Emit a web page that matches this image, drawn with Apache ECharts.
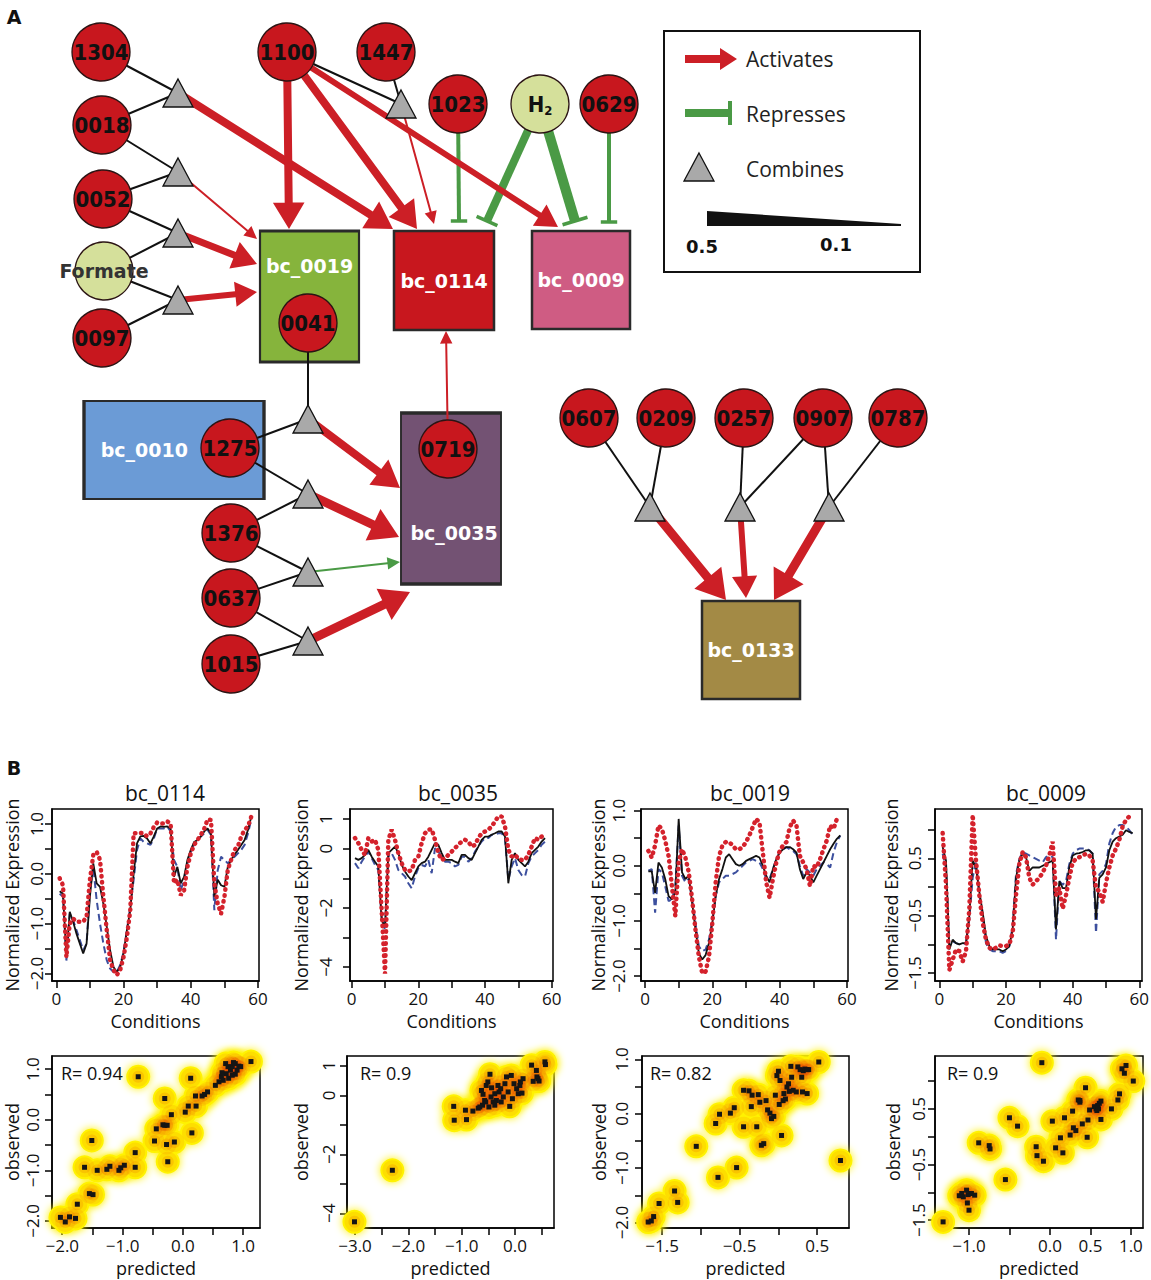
<!DOCTYPE html>
<html>
<head>
<meta charset="utf-8">
<script src="https://cdn.jsdelivr.net/npm/echarts@6/dist/echarts.min.js"></script>
<style>
  html, body { margin: 0; padding: 0; background: #fff; }
  #chart { width: 1151px; height: 1280px; }
</style>
</head>
<body>
<div id="chart"></div>
<script>
// ---------- panel A: regulatory network ----------
// regulator circles: name, x, y (diagram units)
const circles = [
  ['1304', 101, 52], ['1100', 287, 52], ['1447', 386, 52],
  ['0018', 102, 125], ['0052', 103, 199], ['Formate', 104, 271], ['0097', 102, 338],
  ['1023', 458, 104], ['H2', 540, 104], ['0629', 609, 104],
  ['0041', 308, 323], ['1275', 230, 448], ['1376', 231, 533], ['0637', 231, 598],
  ['1015', 231, 664], ['0719', 448, 449],
  ['0607', 589, 418], ['0209', 666, 418], ['0257', 744, 418], ['0907', 823, 418], ['0787', 898, 418]
];
const metabolites = ['Formate', 'H2'];

// combiner triangles: name, x, y
const combiners = [
  ['T1', 178, 93], ['T2', 178, 172], ['T3', 178, 233], ['T4', 178, 300], ['T5', 401, 104],
  ['T6', 308, 419], ['T7', 308, 494], ['T8', 308, 572], ['T9', 308, 641],
  ['T10', 650, 507], ['T11', 740, 507], ['T12', 829, 507]
];

// bicluster boxes: name, centre x, centre y, width, height, colour
const biclusters = [
  ['bc_0019', 309.5, 296.5, 99, 131, '#86b43c'],
  ['bc_0114', 444, 280.5, 100, 99, '#c8171e'],
  ['bc_0009', 581, 280, 98, 98, '#cf5c83'],
  ['bc_0010', 174, 450, 180, 98, '#6b9bd6'],
  ['bc_0035', 451, 498.5, 100, 171, '#735273'],
  ['bc_0133', 751, 650, 98, 98, '#a38a45']
];

// combiner inputs
const connectors = [
  ['1304', 'T1'], ['0018', 'T1'], ['0018', 'T2'], ['0052', 'T2'], ['0052', 'T3'], ['Formate', 'T3'],
  ['Formate', 'T4'], ['0097', 'T4'], ['1100', 'T5'], ['1447', 'T5'], ['0041', 'T6'], ['1275', 'T6'],
  ['1275', 'T7'], ['1376', 'T7'], ['1376', 'T8'], ['0637', 'T8'], ['0637', 'T9'], ['1015', 'T9'],
  ['0607', 'T10'], ['0209', 'T10'], ['0257', 'T11'], ['0907', 'T11'], ['0907', 'T12'], ['0787', 'T12']
];
// activations: source, tip x, tip y, weight, colour
const activations = [
  ['T1', 393, 229, 8, 'red'], ['T2', 257, 239, 2, 'red'], ['T3', 257, 264, 7, 'red'],
  ['T4', 257, 292, 6, 'red'], ['1100', 289, 229, 8, 'red'], ['1100', 417, 229, 8, 'red'],
  ['1100', 558, 227, 6, 'red'], ['T5', 434, 224, 2, 'red'], ['0719', 446, 331, 2, 'red'],
  ['T6', 400, 488, 8, 'red'], ['T7', 399, 537, 9, 'red'], ['T8', 400, 562, 2, 'green'],
  ['T9', 410, 592, 9, 'red'], ['T10', 726, 600, 9, 'red'], ['T11', 746, 598, 6, 'red'],
  ['T12', 774, 600, 9, 'red']
];
// repressions: source, end x, end y, weight
const repressions = [
  ['1023', 459, 221, 4], ['H2', 487, 221, 8], ['H2', 575, 221, 10], ['0629', 609, 222, 4]
];

// ---------- panel B: expression profiles ----------
const conditions = [1,2,3,4,5,6,7,8,9,10,11,12,13,14,15,16,17,18,19,20,21,22,23,24,25,26,27,28,29,30,
  31,32,33,34,35,36,37,38,39,40,41,42,43,44,45,46,47,48,49,50,51,52,53,54,55,56,57,58];

const bc0114Red = [-0.09,-0.23,-1.67,-1.0,-0.9,-0.96,-0.96,-0.96,-0.86,-0.12,0.38,0.44,0.28,-0.46,-1.13,-1.73,-1.93,-2.03,-1.93,-1.67,
  -1.27,-0.73,0.81,0.82,0.82,0.81,0.75,0.81,0.94,1.03,1.01,1.01,1.05,1.01,-0.19,-0.12,-0.43,-0.33,0.14,0.41,
  0.58,0.68,0.78,0.91,1.09,1.08,-0.19,-0.6,-0.8,-0.46,0.08,0.28,0.48,0.55,0.75,0.88,0.95,1.15];
const bc0114Black = [-0.35,-0.4,-1.67,-0.76,-0.96,-1.2,-1.4,-1.6,-1.4,-0.46,0.21,-0.19,-0.26,-0.6,-1.06,-1.53,-1.87,-1.97,-1.87,-1.6,
  -1.13,-0.73,0.0,0.61,0.75,0.76,0.71,0.61,0.75,0.91,0.95,0.94,0.95,0.91,-0.06,0.14,-0.19,-0.06,0.28,0.48,
  0.64,0.68,0.75,0.85,0.91,0.81,-0.46,-0.12,-0.23,-0.26,0.14,0.28,0.38,0.48,0.58,0.68,0.88,1.15];
const bc0114Blue = [-0.4,-0.46,-1.74,-0.8,-0.93,-1.13,-1.33,-1.53,-1.4,-0.33,0.14,-0.53,-1.0,-1.4,-1.73,-1.9,-1.97,-1.97,-1.83,-1.57,
  -1.13,-0.66,-0.12,0.48,0.71,0.64,0.61,0.58,0.71,0.91,0.91,0.91,0.95,0.85,0.28,0.14,-0.33,-0.12,0.21,0.44,
  0.61,0.68,0.75,0.81,0.88,0.78,-0.73,0.07,0.34,0.28,0.21,0.28,0.34,0.41,0.48,0.58,0.81,1.1];

const bc0035Red = [0.36,0.19,-0.04,-0.21,0.36,0.24,0.3,-0.04,-2.08,-4.22,0.3,0.64,0.3,-0.15,-0.49,-0.72,-0.77,-0.72,-0.38,-0.27,
  0.19,0.52,0.64,0.66,0.3,-0.15,-0.38,-0.33,-0.21,-0.1,0.02,0.13,0.24,0.3,0.24,0.07,0.13,0.36,0.52,0.58,
  0.64,0.75,0.92,1.09,1.09,0.75,-0.04,-0.27,-0.21,-0.33,-0.38,-0.38,-0.21,0.07,0.36,0.3,0.41,0.47];
const bc0035Black = [-0.32,-0.38,-0.32,-0.21,-0.04,-0.27,-0.44,-0.6,-2.42,-2.64,-0.15,-0.04,0.07,-0.15,-0.55,-0.77,-0.94,-1.06,-0.83,-0.6,
  -0.49,-0.44,-0.27,-0.04,0.19,0.13,-0.15,-0.38,-0.38,-0.38,-0.44,-0.49,-0.21,-0.21,-0.32,-0.38,-0.15,0.07,0.3,0.41,
  0.41,0.47,0.52,0.58,0.58,0.41,-1.17,-0.38,-0.15,-0.38,-0.49,-0.6,-0.44,-0.15,-0.04,0.07,0.24,0.36];
const bc0035Blue = [-0.49,-0.66,-0.44,-0.27,-0.1,-0.32,-0.55,-0.72,-2.3,-2.76,-0.27,-0.15,-0.38,-0.72,-0.83,-0.94,-1.17,-1.34,-0.94,-0.66,
  -0.55,-0.6,-0.38,-0.83,0.02,-0.1,-0.27,-0.44,-0.44,-0.49,-0.6,-0.55,-0.27,-0.27,-0.44,-0.32,-0.1,0.07,0.24,0.36,
  0.36,0.47,0.47,0.52,0.52,0.36,-1.06,-0.6,-0.32,-0.72,-0.89,-0.94,-0.49,-0.27,-0.15,-0.04,0.13,0.24];

const bc0019Red = [0.27,0.15,0.37,0.73,0.67,0.46,0.18,-0.37,-0.91,0.06,0.3,0.15,-0.12,-0.61,-1.16,-1.65,-1.95,-1.92,-1.65,-1.04,
  -0.3,0.18,0.37,0.43,0.43,0.37,0.3,0.3,0.34,0.43,0.55,0.7,0.85,0.79,0.24,-0.3,-0.58,-0.24,0.06,0.27,
  0.37,0.43,0.7,0.82,0.73,0.18,0.06,-0.06,-0.37,0.0,-0.03,0.12,0.3,0.46,0.73,0.67,0.85,0.85];
const bc0019Black = [-0.1,-0.1,-0.49,0.06,-0.03,-0.24,-0.55,-0.61,-0.49,0.85,-0.12,-0.24,-0.18,-0.67,-1.16,-1.59,-1.7,-1.62,-1.4,-1.04,
  -0.55,-0.24,-0.06,0.15,0.21,0.12,0.03,0.0,0.03,0.09,0.12,0.15,0.18,0.15,0.0,-0.18,-0.3,-0.06,0.12,0.24,
  0.3,0.34,0.34,0.3,0.24,-0.06,-0.24,-0.12,-0.18,-0.3,-0.18,-0.06,0.06,0.18,0.3,0.4,0.49,0.55];
const bc0019Blue = [-0.09,-0.06,-0.85,-0.06,-0.12,-0.37,-0.64,-0.61,-0.37,0.73,-0.18,-0.3,-0.24,-0.61,-1.04,-1.46,-1.55,-1.52,-1.34,-0.98,
  -0.55,-0.3,-0.24,-0.18,-0.18,-0.15,-0.12,-0.06,0.0,0.06,0.09,0.12,0.09,0.06,-0.06,-0.24,-0.24,-0.06,0.12,0.24,
  0.3,0.34,0.3,0.27,0.21,0.0,-0.18,-0.06,-0.12,-0.18,-0.06,0.0,0.06,0.03,-0.03,0.24,0.43,0.55];

const bc0009Red = [0.94,0.04,-1.45,-1.27,-1.09,-1.12,-1.3,-1.12,-0.38,1.26,0.46,-0.14,-0.62,-0.92,-1.06,-1.09,-1.06,-1.02,-1.03,-1.03,
  -1.0,-0.8,-0.14,0.4,0.61,0.52,0.16,0.04,0.1,0.16,0.25,0.37,0.55,0.79,-0.14,-0.02,-0.38,-0.14,0.16,0.43,
  0.49,0.52,0.55,0.58,0.55,0.46,-0.02,-0.08,-0.26,0.07,0.34,0.55,0.67,0.82,1.06,1.17,1.23,1.2];
const bc0009Black = [0.7,0.46,-1.09,-0.92,-0.98,-1.0,-0.98,-0.98,-0.5,0.46,0.34,-0.08,-0.44,-0.86,-1.03,-1.09,-1.09,-1.09,-1.12,-1.09,
  -1.03,-0.74,0.16,0.46,0.58,0.52,0.28,0.34,0.34,0.34,0.37,0.4,0.43,0.46,-0.74,0.1,-0.02,-0.02,0.34,0.55,
  0.58,0.59,0.61,0.64,0.64,0.58,-0.56,0.16,0.22,0.34,0.64,0.79,0.85,0.88,0.91,0.99,0.96,0.94];
const bc0009Blue = [0.58,0.34,-1.03,-0.95,-0.98,-1.0,-1.0,-0.98,-0.56,0.16,0.46,-0.14,-0.5,-0.98,-1.09,-1.12,-1.12,-1.12,-1.15,-1.12,
  -1.03,-0.68,0.22,0.49,0.61,0.58,0.55,0.52,0.49,0.46,0.43,0.52,0.55,0.52,-0.92,0.1,0.04,0.1,0.4,0.58,
  0.64,0.67,0.67,0.67,0.64,0.58,-0.8,0.22,0.28,0.4,0.76,0.94,1.05,1.08,1.08,1.05,0.99,0.91];

// predicted vs observed
const s0114Pred = [-2.03,-1.95,-1.88,-1.78,-1.75,-1.55,-1.49,-1.63,-1.51,-1.42,-1.26,-1.21,-1.06,-1.03,-0.97,-0.79,-0.79,-0.74,-0.47,-0.44,
  -0.33,-0.30,-0.30,-0.26,-0.27,-0.25,-0.19,-0.14,0.04,0.09,0.13,0.15,0.22,0.21,0.32,0.36,0.41,0.54,0.60,0.64,
  0.67,0.71,0.72,0.76,0.79,0.82,0.84,0.87,0.90,0.93,0.87,0.82,0.96,1.13,0.65,0.75];
const s0114Obs = [-1.93,-2.02,-1.92,-1.95,-1.67,-1.46,-1.48,-0.94,-0.41,-1.0,-0.98,-0.92,-1.0,-0.95,-0.9,-0.65,-0.94,0.85,-0.42,-0.18,
  -0.1,0.42,-0.11,-0.11,-0.49,-0.83,0.1,-0.44,0.15,0.27,0.82,-0.26,0.27,0.47,0.47,0.5,0.55,0.68,0.75,0.85,
  0.78,1.11,0.91,0.82,0.98,1.05,1.13,1.11,0.98,1.06,0.9,0.88,1.05,1.15,0.93,1.05];
const s0035Pred = [-3.01,-2.30,-1.15,-1.14,-0.93,-0.91,-0.79,-0.69,-0.66,-0.61,-0.57,-0.63,-0.60,-0.54,-0.51,-0.47,-0.49,-0.45,-0.41,-0.38,
  -0.32,-0.30,-0.27,-0.22,-0.19,-0.16,-0.13,-0.10,-0.07,-0.05,-0.02,0.03,0.06,0.09,0.10,0.15,0.31,0.34,0.40,0.41,
  0.43,0.45,0.56,0.57,-0.38,-0.35,-0.44,-0.55,-0.26,0.13];
const s0035Obs = [-4.29,-2.54,-0.37,-0.84,-0.5,-0.82,-0.53,-0.43,-0.39,-0.33,-0.17,0.17,0.04,0.34,0.46,0.72,-0.39,-0.05,-0.22,-0.33,
  0.34,0.12,0.23,-0.05,0.4,0.63,0.12,-0.37,0.68,-0.11,0.4,0.23,0.06,0.34,0.46,0.57,1.03,0.48,0.85,0.63,
  0.57,0.49,1.14,1.05,0.06,-0.17,0.26,-0.22,-0.22,0.08];
const s0019Pred = [-1.68,-1.64,-1.61,-1.54,-1.34,-1.30,-1.06,-0.78,-0.54,-0.81,-0.76,-0.62,-0.57,-0.45,-0.45,-0.38,-0.35,-0.34,-0.28,-0.26,
  -0.24,-0.22,-0.19,-0.16,-0.14,-0.11,-0.09,-0.06,-0.04,-0.02,0.0,0.01,0.02,0.04,0.06,0.07,0.09,0.11,0.13,0.14,
  0.16,0.17,0.19,0.23,0.25,0.28,0.30,0.31,0.32,0.34,0.37,0.39,0.37,0.52,0.80];
const s0019Obs = [-1.99,-1.97,-1.89,-1.65,-1.42,-1.63,-0.6,-1.17,-0.99,-0.18,-0.01,0.01,0.11,-0.24,0.43,0.42,0.13,0.34,-0.24,0.35,
  0.21,-0.58,-0.55,0.24,0.07,0.01,-0.09,-0.05,0.34,0.7,0.78,0.17,0.61,-0.4,0.24,0.37,0.27,0.49,0.55,0.41,
  0.87,0.67,0.43,0.4,0.86,0.81,0.67,0.4,0.79,0.82,0.81,0.81,0.37,0.95,-0.86];
const s0009Pred = [-1.32,-1.12,-1.09,-1.07,-1.03,-1.01,-0.97,-0.93,-1.02,-1.0,-0.88,-0.75,-0.74,-0.55,-0.50,-0.40,-0.17,-0.16,-0.10,-0.08,
  0.03,0.07,0.13,0.16,0.18,0.25,0.28,0.29,0.32,0.35,0.37,0.40,0.44,0.46,0.47,0.49,0.55,0.57,0.58,0.59,
  0.61,0.63,0.63,0.76,0.84,0.86,0.89,0.92,0.94,1.03,0.37,0.60];
const s0009Obs = [-1.53,-1.06,-1.02,-1.08,-0.96,-1.04,-1.02,-1.05,-1.19,-1.32,-0.11,-0.16,-0.22,-0.77,0.34,0.19,-0.18,-0.34,1.33,-0.44,
  0.28,-0.2,-0.02,-0.29,0.34,0.03,0.46,0.16,0.11,0.66,0.62,0.23,0.88,-0.01,0.3,0.48,0.54,0.5,0.47,0.56,
  0.6,0.64,0.31,0.5,0.66,0.77,1.22,1.14,1.28,1.0,0.65,0.5];

const panelTitles = ['bc_0114', 'bc_0035', 'bc_0019', 'bc_0009'];
const correlations = ['R= 0.94', 'R= 0.9', 'R= 0.82', 'R= 0.9'];

// axis ranges and tick marks of the small plots
const lineAxes = [
  { xr: [-1.28, 60.28], yr: [-2.15, 1.30], yTicks: [-2, -1.5, -1, -0.5, 0, 0.5, 1], yLabels: [-2, -1, 0, 1], dec: 1 },
  { xr: [-0.5, 60.4], yr: [-4.47, 1.34], yTicks: [-4, -3, -2, -1, 0, 1], yLabels: [-4, -2, 0, 1], dec: 0 },
  { xr: [-1.19, 60.3], yr: [-2.09, 1.03], yTicks: [-2, -1.5, -1, -0.5, 0, 0.5, 1], yLabels: [-2, -1, 0, 1], dec: 1 },
  { xr: [-1.3, 60.8], yr: [-1.64, 1.36], yTicks: [-1.5, -1, -0.5, 0, 0.5, 1], yLabels: [-1.5, -0.5, 0.5], dec: 1 }
];
const conditionTicks = [0, 10, 20, 30, 40, 50, 60];
const conditionLabels = [0, 20, 40, 60];
const scatterAxes = [
  { xr: [-2.17, 1.28], yr: [-2.14, 1.26], xTicks: [-2, -1.5, -1, -0.5, 0, 0.5, 1], xLabels: [-2, -1, 0, 1],
    yTicks: [-2, -1.5, -1, -0.5, 0, 0.5, 1], yLabels: [-2, -1, 0, 1], yDec: 1 },
  { xr: [-3.15, 0.73], yr: [-4.5, 1.34], xTicks: [-3, -2.5, -2, -1.5, -1, -0.5, 0, 0.5], xLabels: [-3, -2, -1, 0],
    yTicks: [-4, -3, -2, -1, 0, 1], yLabels: [-4, -2, 0, 1], yDec: 0 },
  { xr: [-1.76, 0.91], yr: [-2.10, 1.06], xTicks: [-1.5, -1, -0.5, 0, 0.5], xLabels: [-1.5, -0.5, 0.5],
    yTicks: [-2, -1.5, -1, -0.5, 0, 0.5, 1], yLabels: [-2, -1, 0, 1], yDec: 1 },
  { xr: [-1.42, 1.15], yr: [-1.64, 1.45], xTicks: [-1, -0.5, 0, 0.5, 1], xLabels: [-1, 0, 0.5, 1],
    yTicks: [-1.5, -1, -0.5, 0, 0.5, 1], yLabels: [-1.5, -0.5, 0.5], yDec: 1 }
];

// ---------- layout / styling ----------
const FONT = 'Open Sans';
const NODE_FONT = 'DejaVu Sans Condensed, DejaVu Sans';
const RED = '#cc1f26';
const GREEN = '#4a9a45';
const lineBoxes = [[52, 207], [350, 203], [641, 207], [935, 207]];
const scatterBoxes = [[52, 208], [347, 207], [642, 207], [935, 208]];
const lineYMargin = [7, 16, 14, 12];
const lineYGap = [31, 40, 34, 35];
const scatterYMargin = [11, 10, 12, 8];
const scatterYGap = [31, 37, 34, 33];
const titleX = [165, 458, 750, 1046];
const rLabelX = [61, 360, 650, 947];

const chart = echarts.init(document.getElementById('chart'), null, { renderer: 'svg' });

const pos = {};
circles.forEach(c => { pos[c[0]] = [c[1], c[2]]; });
combiners.forEach(t => { pos[t[0]] = [t[1], t[2]]; });

// edge rows: x1, y1, x2, y2, weight, kind (0 combine, 1 activate, 2 repress, 3 green activate)
const edgeData = []
  .concat(connectors.map(e => [pos[e[0]][0], pos[e[0]][1], pos[e[1]][0], pos[e[1]][1], 2, 0]))
  .concat(repressions.map(e => [pos[e[0]][0], pos[e[0]][1], e[1], e[2], e[3], 2]))
  .concat(activations.map(e => [pos[e[0]][0], pos[e[0]][1], e[1], e[2], e[3], e[4] === 'green' ? 3 : 1]));

function renderEdge(params, api) {
  const a = api.coord([api.value(0), api.value(1)]);
  const b = api.coord([api.value(2), api.value(3)]);
  const w = api.value(4), kind = api.value(5);
  const dx = b[0] - a[0], dy = b[1] - a[1];
  const len = Math.sqrt(dx * dx + dy * dy);
  const ux = dx / len, uy = dy / len, nx = -uy, ny = ux;
  if (kind === 0) {
    return { type: 'line', shape: { x1: a[0], y1: a[1], x2: b[0], y2: b[1] }, style: { stroke: '#111', lineWidth: w } };
  }
  const col = kind === 1 ? RED : GREEN;
  if (kind === 2) {
    const half = (10 + 1.6 * w) / 2;
    return {
      type: 'group',
      children: [
        { type: 'line', shape: { x1: a[0], y1: a[1], x2: b[0], y2: b[1] }, style: { stroke: col, lineWidth: w } },
        { type: 'line', shape: { x1: b[0] + nx * half, y1: b[1] + ny * half, x2: b[0] - nx * half, y2: b[1] - ny * half },
          style: { stroke: col, lineWidth: 3.5 } }
      ]
    };
  }
  const L = 8 + 2.3 * w, H = 3 + 1.6 * w, hw = w / 2;
  const bx = b[0] - ux * L, by = b[1] - uy * L;
  return {
    type: 'polygon',
    shape: {
      points: [
        [a[0] + nx * hw, a[1] + ny * hw], [bx + nx * hw, by + ny * hw], [bx + nx * H, by + ny * H],
        [b[0], b[1]], [bx - nx * H, by - ny * H], [bx - nx * hw, by - ny * hw], [a[0] - nx * hw, a[1] - ny * hw]
      ]
    },
    style: { fill: col }
  };
}

const grids = [{ left: 0, top: 0, width: 1151, height: 740, show: false, outerBoundsMode: 'none' }];
const xAxes = [{ type: 'value', gridIndex: 0, min: 0, max: 1151, show: false }];
const yAxes = [{ type: 'value', gridIndex: 0, min: 0, max: 740, inverse: true, show: false }];
const series = [];

// boxes
series.push({
  type: 'scatter', xAxisIndex: 0, yAxisIndex: 0, z: 1, silent: true,
  data: biclusters.map(b => {
    let lp = 'inside';
    if (b[0] === 'bc_0019') lp = ['50%', 36];
    if (b[0] === 'bc_0010') lp = [62, '50%'];
    if (b[0] === 'bc_0035') lp = ['53%', '70%'];
    return {
      name: b[0], value: [b[1], b[2]], symbol: 'rect', symbolSize: [b[3], b[4]],
      itemStyle: { color: b[5], opacity: 1, borderColor: '#2a2a2a', borderWidth: 2.5 },
      label: { show: true, formatter: b[0], position: lp, align: 'center', verticalAlign: 'middle',
        color: '#fff', fontSize: 19, fontWeight: 'bold', fontFamily: 'DejaVu Sans' }
    };
  })
});

// edges
series.push({
  type: 'custom', xAxisIndex: 0, yAxisIndex: 0, z: 2, silent: true, clip: false,
  renderItem: renderEdge, data: edgeData
});

// circles and triangles
series.push({
  type: 'scatter', xAxisIndex: 0, yAxisIndex: 0, z: 3, silent: true,
  data: circles.map(c => {
    const meta = metabolites.indexOf(c[0]) >= 0;
    const label = { show: true, position: 'inside', color: '#111', fontSize: 22, fontWeight: 'bold', fontFamily: NODE_FONT };
    if (c[0] === 'H2') {
      label.formatter = '{a|H}{b|2}';
      label.rich = {
        a: { fontSize: 22, fontWeight: 'bold', fontFamily: NODE_FONT, color: '#111' },
        b: { fontSize: 13, fontWeight: 'bold', fontFamily: NODE_FONT, color: '#111', padding: [12, 0, 0, 0] }
      };
    } else if (c[0] === 'Formate') {
      label.formatter = 'Formate';
      label.fontFamily = 'DejaVu Sans';
      label.fontSize = 19;
      label.color = '#333';
    } else {
      label.formatter = c[0];
    }
    return {
      name: c[0], value: [c[1], c[2]], symbol: 'circle', symbolSize: 58,
      itemStyle: { color: meta ? '#d5e09b' : '#c8171e', opacity: 1, borderColor: '#2b1414', borderWidth: 1.3 },
      label: label
    };
  }).concat(combiners.map(t => ({
    name: t[0], value: [t[1], t[2]], symbol: 'triangle', symbolSize: [30, 28],
    itemStyle: { color: '#a9a9a9', opacity: 1, borderColor: '#111', borderWidth: 1.3 }, label: { show: false }
  })))
});

function fmt(dec) {
  return v => (v < 0 ? '\u2212' : '') + Math.abs(v).toFixed(dec);
}

function rAxis(o) {
  return {
    type: 'value', gridIndex: o.grid, min: o.range[0], max: o.range[1],
    name: o.name, nameLocation: 'middle', nameGap: o.nameGap,
    nameTextStyle: { fontFamily: FONT, fontSize: 18, color: '#111' },
    axisLine: { show: true, onZero: false, lineStyle: { color: '#000', width: 1.5 } },
    axisTick: { show: true, inside: false, length: 7, customValues: o.ticks, lineStyle: { color: '#000', width: 1.5 } },
    axisLabel: { show: true, customValues: o.labels, formatter: fmt(o.dec), rotate: o.rotate || 0, margin: o.margin,
      fontFamily: FONT, fontSize: 17, color: '#111', hideOverlap: false },
    splitLine: { show: false }
  };
}

const lineSets = [
  [bc0114Blue, bc0114Black, bc0114Red],
  [bc0035Blue, bc0035Black, bc0035Red],
  [bc0019Blue, bc0019Black, bc0019Red],
  [bc0009Blue, bc0009Black, bc0009Red]
];
const scatterSets = [
  [s0114Pred, s0114Obs], [s0035Pred, s0035Obs], [s0019Pred, s0019Obs], [s0009Pred, s0009Obs]
];

const texts = [];

lineSets.forEach((set, i) => {
  const g = grids.length;
  const ax = lineAxes[i];
  grids.push({ left: lineBoxes[i][0], width: lineBoxes[i][1], top: 809, height: 172, outerBoundsMode: 'none',
    show: true, borderColor: '#000', borderWidth: 1.5, backgroundColor: 'transparent' });
  xAxes.push(rAxis({ grid: g, range: ax.xr, ticks: conditionTicks, labels: conditionLabels, dec: 0,
    name: 'Conditions', nameGap: 31, margin: 9 }));
  yAxes.push(rAxis({ grid: g, range: ax.yr, ticks: ax.yTicks, labels: ax.yLabels, dec: ax.dec, rotate: 90,
    name: 'Normalized Expression', nameGap: lineYGap[i], margin: lineYMargin[i] }));
  const styles = [
    { color: '#3c4f9e', width: 2, type: [7, 4] },
    { color: '#111', width: 1.8, type: 'solid' },
    { color: '#d4222c', width: 4.5, type: [0.5, 5.5], cap: 'round' }
  ];
  set.forEach((vals, k) => {
    series.push({
      type: 'line', xAxisIndex: g, yAxisIndex: g, showSymbol: false, silent: true, z: 2 + k,
      data: conditions.map((c, j) => [c, vals[j]]), lineStyle: styles[k]
    });
  });
  texts.push({ type: 'text', x: titleX[i], y: 793,
    style: { text: panelTitles[i], fontFamily: FONT, fontSize: 21, fill: '#111', align: 'center', verticalAlign: 'middle' } });
});

scatterSets.forEach((set, i) => {
  const g = grids.length;
  const ax = scatterAxes[i];
  grids.push({ left: scatterBoxes[i][0], width: scatterBoxes[i][1], top: 1056, height: 172, outerBoundsMode: 'none',
    show: true, borderColor: '#000', borderWidth: 1.5, backgroundColor: 'transparent' });
  xAxes.push(rAxis({ grid: g, range: ax.xr, ticks: ax.xTicks, labels: ax.xLabels, dec: 1,
    name: 'predicted', nameGap: 31, margin: 9 }));
  yAxes.push(rAxis({ grid: g, range: ax.yr, ticks: ax.yTicks, labels: ax.yLabels, dec: ax.yDec, rotate: 90,
    name: 'observed', nameGap: scatterYGap[i], margin: scatterYMargin[i] }));
  const pts = set[0].map((p, j) => [p, set[1][j]]);
  // density glow: yellow halo, then faint orange/red cores that build up where points crowd
  series.push({
    type: 'scatter', xAxisIndex: g, yAxisIndex: g, silent: true, z: 1, data: pts, symbolSize: 24,
    itemStyle: { color: '#fff200', opacity: 1, shadowBlur: 9, shadowColor: '#fff200' }
  });
  series.push({
    type: 'scatter', xAxisIndex: g, yAxisIndex: g, silent: true, z: 2, data: pts, symbolSize: 20,
    itemStyle: { color: 'rgba(240,110,0,0.15)', opacity: 1 }
  });
  series.push({
    type: 'scatter', xAxisIndex: g, yAxisIndex: g, silent: true, z: 2, data: pts, symbolSize: 12,
    itemStyle: { color: 'rgba(225,20,0,0.12)', opacity: 1 }
  });
  series.push({
    type: 'scatter', xAxisIndex: g, yAxisIndex: g, silent: true, z: 3, data: pts, symbol: 'rect', symbolSize: 5,
    itemStyle: { color: '#151515', opacity: 1 }
  });
  texts.push({ type: 'text', x: rLabelX[i], y: 1073, z: 10,
    style: { text: correlations[i], fontFamily: FONT, fontSize: 18, fill: '#111', align: 'left', verticalAlign: 'middle' } });
});

// legend of panel A and panel letters
const legendEls = [
  { type: 'rect', shape: { x: 664, y: 31, width: 256, height: 241 }, style: { fill: '#fff', stroke: '#111', lineWidth: 2 } },
  { type: 'polygon', shape: { points: [[685, 55], [720, 55], [720, 48], [737, 59], [720, 70], [720, 63], [685, 63]] }, style: { fill: RED } },
  { type: 'rect', shape: { x: 685, y: 109, width: 44, height: 8 }, style: { fill: GREEN } },
  { type: 'rect', shape: { x: 728, y: 101, width: 4, height: 24 }, style: { fill: GREEN } },
  { type: 'polygon', shape: { points: [[699, 153], [714, 181], [684, 181]] }, style: { fill: '#a9a9a9', stroke: '#111', lineWidth: 1.3 } },
  { type: 'polygon', shape: { points: [[707, 211], [901, 224], [901, 226], [707, 226]] }, style: { fill: '#111' } },
  { type: 'text', x: 746, y: 59, style: { text: 'Activates', fontFamily: FONT, fontSize: 21, fill: '#222', verticalAlign: 'middle' } },
  { type: 'text', x: 746, y: 114, style: { text: 'Represses', fontFamily: FONT, fontSize: 21, fill: '#222', verticalAlign: 'middle' } },
  { type: 'text', x: 746, y: 169, style: { text: 'Combines', fontFamily: FONT, fontSize: 21, fill: '#222', verticalAlign: 'middle' } },
  { type: 'text', x: 702, y: 246, style: { text: '0.5', fontFamily: 'DejaVu Sans', fontWeight: 'bold', fontSize: 18, fill: '#111', align: 'center', verticalAlign: 'middle' } },
  { type: 'text', x: 836, y: 244, style: { text: '0.1', fontFamily: 'DejaVu Sans', fontWeight: 'bold', fontSize: 18, fill: '#111', align: 'center', verticalAlign: 'middle' } },
  { type: 'text', x: 14, y: 17, style: { text: 'A', fontFamily: 'DejaVu Sans', fontWeight: 'bold', fontSize: 19, fill: '#111', align: 'center', verticalAlign: 'middle' } },
  { type: 'text', x: 14, y: 768, style: { text: 'B', fontFamily: 'DejaVu Sans', fontWeight: 'bold', fontSize: 19, fill: '#111', align: 'center', verticalAlign: 'middle' } }
];

chart.setOption({
  animation: false,
  backgroundColor: '#fff',
  grid: grids,
  xAxis: xAxes,
  yAxis: yAxes,
  series: series,
  graphic: { elements: legendEls.concat(texts) }
});
</script>
</body>
</html>
